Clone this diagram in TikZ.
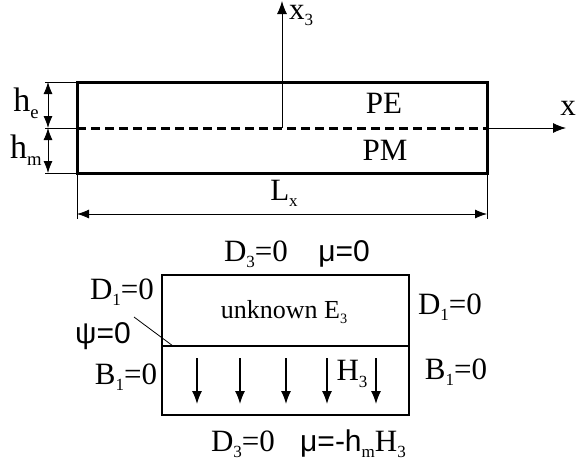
\documentclass[tikz,border=0pt]{standalone}
\usepackage{fontspec}
\setmainfont{Liberation Serif}
\setsansfont{Liberation Sans}
\usetikzlibrary{arrows.meta}
\newcommand{\lowidx}[1]{\raisebox{-0.2em}{\scalebox{0.55}{#1}}}
\tikzset{
  plate/.style={line width=3pt},
  interface/.style={line width=3pt, dash pattern=on 9pt off 5pt},
  axis/.style={line width=0.9pt, -{Latex[length=13pt,width=10pt]}},
  extline/.style={line width=0.8pt},
  dimline/.style={line width=0.8pt, {Latex[length=12pt,width=9pt]}-{Latex[length=12pt,width=9pt]}},
  fieldarrow/.style={line width=1.3pt, -{Latex[length=13pt,width=10pt]}},
  cell/.style={line width=1.4pt},
  lbl/.style={inner sep=0pt, font=\fontsize{31}{33}\selectfont},
  slbl/.style={inner sep=0pt, font=\sffamily\fontsize{30}{32}\selectfont},
}
\begin{document}
\begin{tikzpicture}[x=1pt,y=-1pt]
    \useasboundingbox (0,0) rectangle (579,467);
    % The plate with the PE/PM interface.
        \coordinate (tl) at (77,82);
        \coordinate (br) at (487,173);
        \coordinate (bl) at (77,173);
        \coordinate (tr) at (487,82);
        \coordinate (ml) at (77,128);
        \coordinate (mr) at (487,128);
        \draw[plate] (tl) rectangle (br);
        \draw[interface] (ml) -- (mr);
    % Axes.
        \coordinate (o) at (282,128);
        \coordinate (x3end) at (282,1);
        \coordinate (xend) at (566,128);
        \draw[axis] (o) -- (x3end);
        \draw[axis] (mr) -- (xend);
    % Thickness and length dimensions.
        \coordinate (et) at (45,82);
        \coordinate (em) at (45,128);
        \coordinate (eb) at (45,173);
        \draw[extline] (et) -- (tl);
        \draw[extline] (em) -- (ml);
        \draw[extline] (eb) -- (bl);
        \coordinate (dt) at (48,82);
        \coordinate (dm) at (48,128);
        \coordinate (db) at (48,173);
        \draw[dimline] (dt) -- (dm);
        \draw[dimline] (dm) -- (db);
        \coordinate (lxl) at (77,219);
        \coordinate (lxr) at (487,219);
        \draw[extline] (bl) -- (lxl);
        \draw[extline] (br) -- (lxr);
        \coordinate (al) at (77,214);
        \coordinate (ar) at (487,214);
        \draw[dimline] (al) -- (ar);
    % Below nodes are the labels of the plate.
        \node[lbl, font=\fontsize{34}{35}\selectfont] (he) at (26,103) {h\lowidx{e}};
        \node[lbl, font=\fontsize{34}{35}\selectfont] (hm) at (26,150) {h\lowidx{m}};
        \node[lbl, anchor=base west] (xthree) at (289,19) {x\lowidx{3}};
        \node[lbl] (xlbl) at (568,108) {x};
        \node[lbl] (pe) at (384,103) {PE};
        \node[lbl] (pm) at (385,150) {PM};
        \node[lbl] (lx) at (284,193) {L\lowidx{x}};
    % The cell with its boundary conditions.
        \coordinate (ctl) at (162,275);
        \coordinate (cbr) at (409,415);
        \coordinate (cml) at (162,346);
        \coordinate (cmr) at (409,346);
        \draw[cell] (ctl) rectangle (cbr);
        \draw[cell] (cml) -- (cmr);
        \foreach \xx in {197,240,286,327,376}
            \draw[fieldarrow] (\xx,358) -- (\xx,404);
        \node[lbl] (dtop) at (256,254) {D\lowidx{3}=0};
        \node[slbl] (mutop) at (344,254) {μ=0};
        \node[lbl] (dleft) at (122,292) {D\lowidx{1}=0};
        \node[slbl] (psi) at (103,336) {ψ=0};
        \node[lbl] (bleft) at (126,377) {B\lowidx{1}=0};
        \node[lbl, font=\fontsize{26}{28}\selectfont] (unk) at (284,312) {unknown E\lowidx{3}};
        \node[lbl] (dright) at (450,307) {D\lowidx{1}=0};
        \node[lbl] (bright) at (456,372) {B\lowidx{1}=0};
        \node[lbl] (hthree) at (352,374) {H\lowidx{3}};
        \node[lbl] (dbot) at (243,444) {D\lowidx{3}=0};
        \node[lbl, anchor=west] (mubot) at (300,444) {{\sffamily\fontsize{30}{32}\selectfont μ=-h}\lowidx{m}H\lowidx{3}};
        \coordinate (psitip) at (173,346);
        \draw[extline] (psi.east) ++(3,-19) coordinate (psifoot) -- (psitip);
\end{tikzpicture}
\end{document}
